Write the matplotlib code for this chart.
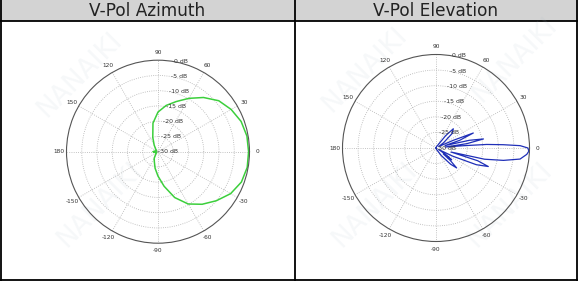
import numpy as np
import matplotlib
matplotlib.use("Agg")
import matplotlib.pyplot as plt
from matplotlib.patches import Rectangle

# ---------------- data ----------------
titles = ["V-Pol Azimuth", "V-Pol Elevation"]

az_angles = [-180, -165, -150, -135, -120, -110, -100, -90, -80, -70, -60, -50, -40,
             -30, -20, -10, 0, 10, 20, 30, 40, 50, 60, 70, 80, 90, 100, 110, 120,
             135, 150, 165, 180]
az_gain = [-28.5, -29, -29.5, -29, -27.5, -26.5, -24.5, -22, -18.5, -14, -10.2, -7.5, -5,
           -2.5, -0.9, -0.3, -0.3, -0.4, -1.0, -2.3, -4.0, -6.8, -9.8, -12.5, -14.6, -17,
           -20.5, -25, -27.5, -29, -29.5, -29, -28.5]

el_angles = [-180, -120, -70, -55, -48, -44, -41, -39, -37, -34, -30, -26, -22.5, -19.5,
             -17, -15, -13, -10.4, -7.5, -4, -2, 0, 1.6, 2.8, 4, 4.8, 6, 8, 10.8, 13, 15,
             18, 21.9, 24, 28, 35, 42, 48, 52, 58, 70, 90, 120, 180]
el_gain = [-30, -30, -29.5, -27, -23, -20.8, -24, -27, -23.7, -26, -29, -24, -16, -12.2,
           -16, -25, -14, -8, -2.8, -0.8, -0.2, -0.5, -3, -8.4, -13.7, -21.2, -27, -20,
           -14.5, -19, -27, -22, -17.1, -24, -29, -27, -23, -21.7, -25, -29, -29.5, -30,
           -30, -30]

ring_values = [-30, -25, -20, -15, -10, -5, 0]
ring_labels = ["-30 dB", "-25 dB", "-20 dB", "-15 dB", "-10 dB", "-5 dB", "0 dB"]
theta_ticks = [0, 30, 60, 90, 120, 150, 180, 210, 240, 270, 300, 330]
theta_labels = ["0", "30", "60", "90", "120", "150", "180", "-150", "-120", "-90", "-60", "-30"]

# ---------------- figure ----------------
W, H = 578, 281
fig = plt.figure(figsize=(W / 100, H / 100), dpi=100)

bg = fig.add_axes([0, 0, 1, 1])
bg.set_xlim(0, W)
bg.set_ylim(H, 0)
bg.axis("off")

# faint watermark
for (x, y) in [(80, 75), (100, 205), (365, 70), (515, 60), (375, 205), (510, 205)]:
    bg.text(x, y, "NANAIKI", rotation=45, fontsize=19, color="#a8b8c8", alpha=0.10,
            ha="center", va="center")

# table header & borders
bg.add_patch(Rectangle((0, 0), W, 20.5, facecolor="#d3d3d3", edgecolor="none"))
bg.plot([0, W], [20.5, 20.5], color="black", lw=1.3)
bg.plot([0.5, 0.5], [0, 280], color="black", lw=1.3)
bg.plot([576.5, 576.5], [0, 280], color="black", lw=1.3)
bg.plot([294.5, 294.5], [0, 280], color="black", lw=1.3)
bg.plot([0, W], [279.5, 279.5], color="black", lw=1.3)
bg.text(147.5, 10.5, titles[0], ha="center", va="center", fontsize=12.2, color="#222222")
bg.text(435.5, 10.5, titles[1], ha="center", va="center", fontsize=12.2, color="#222222")


def polar_panel(cx, cy, rad, angles, gains, color, lw):
    left = (cx - rad) / W
    bottom = (H - cy - rad) / H
    ax = fig.add_axes([left, bottom, 2 * rad / W, 2 * rad / H], projection="polar")
    ax.patch.set_alpha(0)
    ax.set_ylim(-30, 0)
    ax.set_yticks(ring_values[1:-1])
    ax.set_yticklabels([])
    ax.set_thetagrids(theta_ticks, theta_labels)
    ax.tick_params(axis="x", labelsize=4.2, pad=-5, colors="#333333")
    ax.grid(True, color="#b0b0b0", linestyle=":", linewidth=0.6)
    ax.spines["polar"].set_color("#555555")
    ax.spines["polar"].set_linewidth(0.8)
    for v, lab in zip(ring_values, ring_labels):
        ax.text(np.deg2rad(80), v, lab, ha="left", va="center", fontsize=4.4,
                color="#333333")
    ax.plot(np.deg2rad(angles), gains, color=color, lw=lw)
    return ax


polar_panel(158, 151.7, 91.5, az_angles, az_gain, "#3ccf3c", 1.1)
polar_panel(436, 148.0, 93.5, el_angles, el_gain, "#1f2fb8", 0.9)

fig.savefig("out.png", dpi=100)
